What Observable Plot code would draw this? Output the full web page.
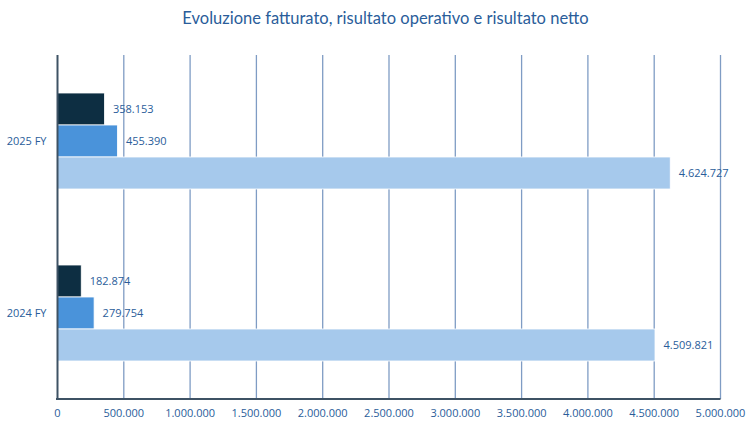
<!DOCTYPE html>
<html><head><meta charset="utf-8">
<script src="https://cdn.jsdelivr.net/npm/d3@7"></script>
<script src="https://cdn.jsdelivr.net/npm/@observablehq/plot@0.6"></script>
<style>
body{margin:0;background:#fff;font-family:"Open Sans",Lato,sans-serif;}
#title{height:38px;line-height:36px;text-align:center;color:#2A5D9A;font-size:16.5px;padding-left:18px;font-family:Lato,sans-serif;}
</style></head><body>
<div id="title">Evoluzione fatturato, risultato operativo e risultato netto</div>
<div id="chart"></div>
<script>
const years = ["2025 FY", "2024 FY"];
const series = ["Risultato netto", "Risultato operativo", "Fatturato"];
const netto = [358153, 182874];
const operativo = [455390, 279754];
const fatturato = [4624727, 4509821];
const xTicks = [0, 500000, 1000000, 1500000, 2000000, 2500000, 3000000, 3500000, 4000000, 4500000, 5000000];
const colors = ["#0D2E42", "#4A93DA", "#A6C9EC"];

const data = [];
years.forEach((y, i) => {
  data.push({year: y, series: series[0], value: netto[i]});
  data.push({year: y, series: series[1], value: operativo[i]});
  data.push({year: y, series: series[2], value: fatturato[i]});
});

const loc = d3.formatLocale({decimal: ",", thousands: ".", grouping: [3], currency: ["", "€"]});
const fmt = loc.format(",d");

const W = 753, H = 388, mL = 57, mR = 33, mT = 16, mB = 27;
const chart = Plot.plot({
  width: W,
  height: H,
  marginLeft: mL,
  marginRight: mR,
  marginTop: mT,
  marginBottom: mB,
  style: {fontFamily: "'Open Sans', sans-serif", fontSize: "11px", color: "#2A5D9A", background: "#fff", overflow: "visible"},
  x: {domain: [0, 5000000], ticks: xTicks, tickFormat: fmt, label: null, tickSize: 0, tickPadding: 10},
  fy: {domain: years, padding: 0, label: null, tickSize: 0, tickPadding: 11},
  y: {domain: series, paddingInner: 0, paddingOuter: 1.11, axis: null},
  color: {domain: series, range: colors},
  marks: [
    Plot.ruleX(xTicks.slice(1), {stroke: "#7F9CC4", strokeWidth: 1.3, strokeOpacity: 1}),
    Plot.barX(data, {x: "value", y: "series", fy: "year", fill: "series", stroke: "#fff", strokeWidth: 0.8}),
    Plot.text(data, {x: "value", y: "series", fy: "year", text: d => fmt(d.value), textAnchor: "start", dx: 8, fill: "#2A5D9A", fontSize: 11}),
    Plot.ruleX([0], {stroke: "#3E5264", strokeWidth: 2})
  ]
});
// bottom axis baseline, using the plot's own x scale
const xs = chart.scale("x");
const x0 = xs.apply(0), x1 = xs.apply(5000000);
const ln = document.createElementNS("http://www.w3.org/2000/svg", "line");
ln.setAttribute("x1", x0 - 1); ln.setAttribute("x2", x1 + 0.5);
ln.setAttribute("y1", H - mB); ln.setAttribute("y2", H - mB);
ln.setAttribute("stroke", "#3E5264"); ln.setAttribute("stroke-width", "2");
chart.appendChild(ln);
document.getElementById("chart").appendChild(chart);
</script>
</body></html>
